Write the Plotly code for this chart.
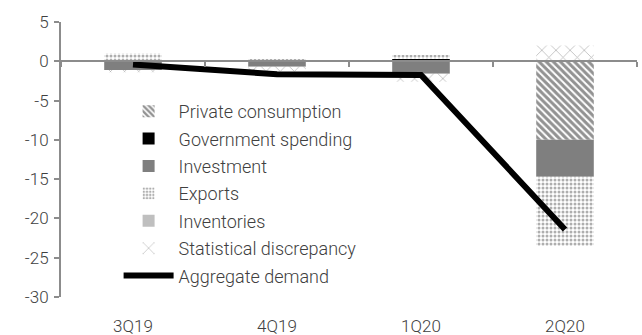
import plotly.graph_objects as go

# Contributions to quarterly GDP growth, percentage points
quarters = ["3Q19", "4Q19", "1Q20", "2Q20"]
private_consumption = [0.0, 0.0, 0.0, -10.0]
government_spending = [0.0, 0.0, 0.3, 0.0]
investment = [-1.1, -0.7, -1.6, -4.7]
exports = [1.0, 0.3, 0.5, -8.8]
inventories = [0.0, 0.0, 0.0, 0.0]
statistical_discrepancy = [-0.3, -0.6, -1.0, 2.0]
aggregate_demand = [-0.4, -1.65, -1.75, -21.4]

y_ticks = [5, 0, -5, -10, -15, -20, -25, -30]

FONT = "Roboto"
TEXT_COLOR = "#404040"
AXIS_COLOR = "#8c8c8c"

fig = go.Figure()

bar_specs = [
    ("Private consumption", private_consumption,
     dict(color="white", pattern=dict(shape="\\", fgcolor="#262626", bgcolor="white", size=5, solidity=0.6))),
    ("Government spending", government_spending, dict(color="#000000")),
    ("Investment", investment, dict(color="#7f7f7f")),
    ("Exports", exports,
     dict(color="white", pattern=dict(shape=".", fgcolor="#5e5e5e", bgcolor="white", size=4, solidity=0.45))),
    ("Inventories", inventories, dict(color="#bfbfbf")),
    ("Statistical discrepancy", statistical_discrepancy,
     dict(color="white", pattern=dict(shape="x", fgcolor="#707070", bgcolor="white", size=10, solidity=0.15))),
]

for i, (name, vals, marker) in enumerate(bar_specs):
    marker = dict(marker, line=dict(width=0))
    fig.add_trace(go.Bar(x=quarters, y=vals, name=name, marker=marker,
                         legendgroup=f"g{i}"))

fig.add_trace(go.Scatter(x=quarters, y=aggregate_demand, name="Aggregate demand",
                         mode="lines", line=dict(color="#000000", width=6),
                         xaxis="x2", legendgroup="g6"))

y_min, y_max = min(y_ticks), max(y_ticks)

fig.update_layout(
    width=642, height=335,
    margin=dict(l=61, r=5, t=22, b=38, autoexpand=False),
    paper_bgcolor="white", plot_bgcolor="white",
    barmode="relative", bargap=0.6,
    font=dict(family=FONT, size=17, color=TEXT_COLOR, weight=300),
    showlegend=True,
    legend=dict(x=0.1, y=0.742, xanchor="left", yanchor="top",
                bgcolor="rgba(0,0,0,0)", itemwidth=50, tracegroupgap=1,
                font=dict(family=FONT, size=18, color=TEXT_COLOR, weight=300)),
    xaxis=dict(type="category", categoryarray=quarters, range=[-0.5, len(quarters) - 0.5],
               showline=False, showgrid=False, zeroline=False, automargin=False,
               ticks="outside", ticklen=14, tickcolor="rgba(0,0,0,0)"),
    xaxis2=dict(type="category", categoryarray=quarters, range=[-0.5, len(quarters) - 0.5],
                overlaying="x", anchor="free",
                position=(0 - y_min) / (y_max - y_min),
                showline=True, linecolor=AXIS_COLOR, linewidth=2,
                tickson="boundaries", ticks="outside", ticklen=5, tickcolor=AXIS_COLOR,
                tickwidth=2, showticklabels=False, showgrid=False, zeroline=False),
    yaxis=dict(range=[y_min, y_max], tickvals=y_ticks, ticktext=[str(v) for v in y_ticks],
               showline=True, linecolor=AXIS_COLOR, linewidth=2, automargin=False,
               ticks="outside", ticklen=5, tickcolor=AXIS_COLOR, tickwidth=2,
               showgrid=False, zeroline=False, ticklabelstandoff=2),
)

fig.write_html("out.html")
